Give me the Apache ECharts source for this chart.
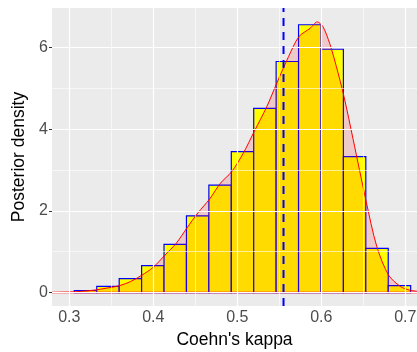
<!DOCTYPE html>
<html>
<head>
<meta charset="utf-8">
<script src="https://cdn.jsdelivr.net/npm/echarts@6/dist/echarts.min.js"></script>
<style>html,body{margin:0;padding:0;background:#fff}#c{width:417px;height:352px}</style>
</head>
<body>
<div id="c"></div>
<script>
// Histogram bins (left edges) and densities
var binStart = 0.306;
var binWidth = 0.02669;
var binHeights = [0.05, 0.15, 0.34, 0.66, 1.18, 1.88, 2.63, 3.45, 4.51, 5.66, 6.56, 5.96, 3.33, 1.08, 0.17];
// Density curve
var densX = [0.2794, 0.29, 0.30, 0.315, 0.33, 0.345, 0.36, 0.373, 0.386, 0.40, 0.414, 0.427, 0.44, 0.453, 0.467, 0.48, 0.4933, 0.507, 0.520, 0.535, 0.547, 0.561, 0.5734, 0.5865, 0.5952, 0.602, 0.610, 0.618, 0.627, 0.638, 0.653, 0.666, 0.680, 0.694, 0.705, 0.7139];
var densY = [0.0, 0.005, 0.01, 0.03, 0.06, 0.11, 0.17, 0.27, 0.42, 0.62, 0.92, 1.20, 1.58, 1.95, 2.29, 2.68, 2.96, 3.41, 3.94, 4.55, 5.13, 5.78, 6.27, 6.47, 6.63, 6.51, 6.10, 5.53, 4.80, 3.74, 2.27, 1.13, 0.43, 0.15, 0.06, 0.03];
var meanKappa = 0.555;
var xTicks = [0.3, 0.4, 0.5, 0.6, 0.7];
var xMinor = [0.35, 0.45, 0.55, 0.65];
var yTicks = [0, 2, 4, 6];
var yMinor = [1, 3, 5];
var xRange = [0.2794, 0.7139];
var yRange = [-0.33, 6.97];

var bars = binHeights.map(function (h, i) {
  return [binStart + i * binWidth, binStart + (i + 1) * binWidth, h];
});
var dens = densX.map(function (x, i) { return [x, densY[i]]; });

var gridLines = [];
xTicks.forEach(function (v) { gridLines.push({ xAxis: v, lineStyle: { width: 1.2 } }); });
xMinor.forEach(function (v) { gridLines.push({ xAxis: v, lineStyle: { width: 0.6 } }); });
yTicks.forEach(function (v) { gridLines.push({ yAxis: v, lineStyle: { width: 1.2 } }); });
yMinor.forEach(function (v) { gridLines.push({ yAxis: v, lineStyle: { width: 0.6 } }); });

var chart = echarts.init(document.getElementById('c'), null, { renderer: 'canvas' });
var font = '"Liberation Sans", Arial, sans-serif';
chart.setOption({
  animation: false,
  backgroundColor: '#ffffff',
  grid: { left: 52, right: 0, top: 8, bottom: 46, show: true, backgroundColor: '#EBEBEB', borderWidth: 0,
    containLabel: false, outerBoundsMode: 'none' },
  xAxis: {
    type: 'value', min: xRange[0], max: xRange[1],
    name: "Coehn's kappa", nameLocation: 'middle', nameGap: 21,
    nameTextStyle: { color: '#000', fontSize: 17.5, fontFamily: font },
    axisLine: { show: false },
    axisTick: { show: true, length: 3, lineStyle: { color: '#333', width: 1 }, customValues: xTicks },
    axisLabel: { color: '#4D4D4D', fontSize: 16, fontFamily: font, margin: 4, customValues: xTicks,
      hideOverlap: false, formatter: function (v) { return v.toFixed(1); } },
    splitLine: { show: false }
  },
  yAxis: {
    type: 'value', min: yRange[0], max: yRange[1],
    name: 'Posterior density', nameLocation: 'middle', nameGap: 17, nameRotate: 90,
    nameTextStyle: { color: '#000', fontSize: 17.5, fontFamily: font },
    axisLine: { show: false },
    axisTick: { show: true, length: 3, lineStyle: { color: '#333', width: 1 }, customValues: yTicks },
    axisLabel: { color: '#4D4D4D', fontSize: 16, fontFamily: font, margin: 4, customValues: yTicks },
    splitLine: { show: false }
  },
  series: [
    {
      type: 'line', data: [], silent: true, z: 1,
      markLine: { silent: true, symbol: 'none', label: { show: false },
        lineStyle: { color: '#ffffff', type: 'solid' }, data: gridLines }
    },
    {
      type: 'custom', z: 2, data: bars,
      renderItem: function (params, api) {
        var p0 = api.coord([api.value(0), 0]);
        var p1 = api.coord([api.value(1), api.value(2)]);
        return {
          type: 'rect',
          shape: { x: p0[0], y: p1[1], width: p1[0] - p0[0], height: p0[1] - p1[1] },
          style: { fill: '#FFFF00', stroke: '#0000FF', lineWidth: 1.2 }
        };
      }
    },
    {
      type: 'line', z: 3, data: dens, smooth: 0.3, showSymbol: false,
      lineStyle: { color: '#FF0000', width: 1 },
      areaStyle: { color: '#FF0000', opacity: 0.14, origin: 0 }
    },
    {
      type: 'line', z: 4, data: [[xRange[0], 0], [xRange[1], 0]], showSymbol: false,
      lineStyle: { color: '#FF0000', width: 1.5 }
    },
    {
      type: 'line', z: 5, data: [[meanKappa, yRange[0]], [meanKappa, yRange[1]]], showSymbol: false,
      lineStyle: { color: '#0000FF', width: 2, type: [8, 6] }
    }
  ]
});
</script>
</body>
</html>
